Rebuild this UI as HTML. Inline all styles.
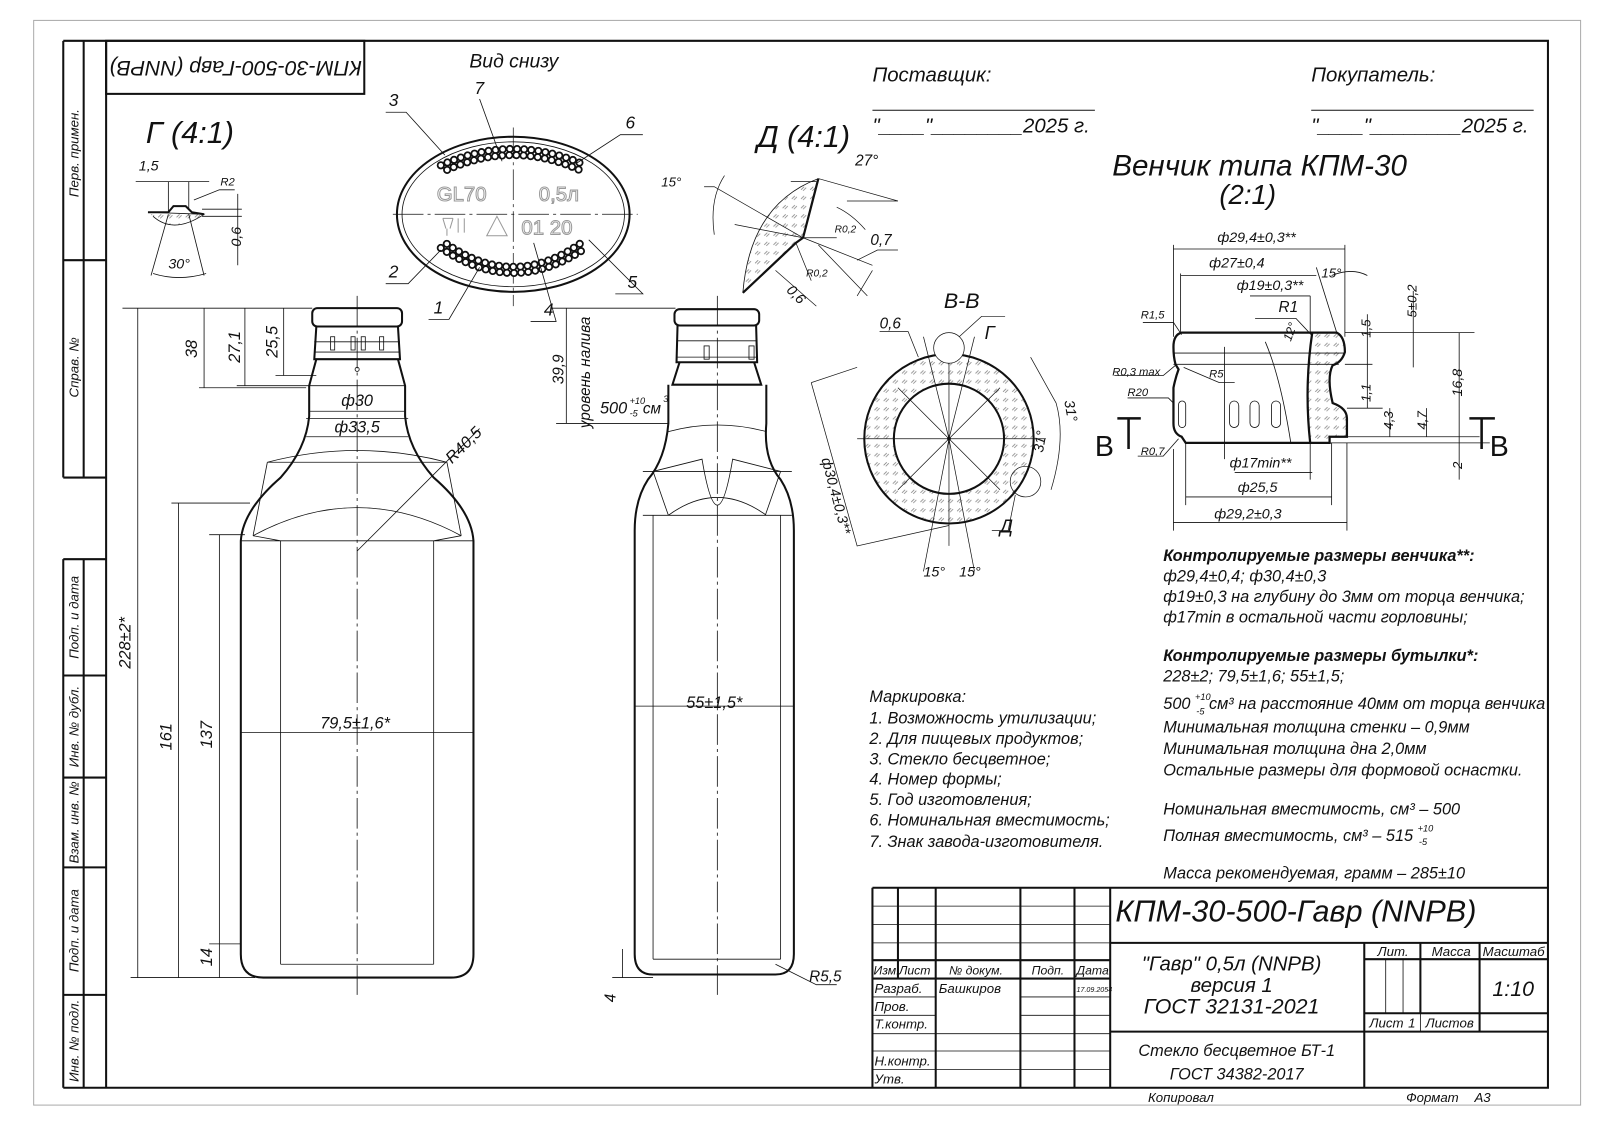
<!DOCTYPE html>
<html><head><meta charset="utf-8"><style>
html,body{margin:0;padding:0;background:#fff;}
svg{display:block;}
text{font-family:"Liberation Sans Narrow","Liberation Sans",sans-serif;font-style:italic;fill:#111;}
</style></head><body>
<svg id="s" width="1600" height="1131" viewBox="0 0 1600 1131" xmlns="http://www.w3.org/2000/svg">
<defs>
<pattern id="h" width="9" height="9" patternUnits="userSpaceOnUse">
<path d="M2 6 L5 3 M4 7 L7 4" stroke="#888" stroke-width="0.8"/>
</pattern>
</defs>
<g transform="scale(1.0204)" fill="none" stroke="#111">
<!-- frames -->
<rect x="33" y="20" width="1516" height="1063" stroke="#aaa" stroke-width="1"/>
<path d="M62 40 H1517 V1066 H62" stroke-width="2"/>
<line x1="104" y1="40" x2="104" y2="1066" stroke-width="2"/>
<path d="M62 40 V468 M82 40 V468 M62 548 V1066 M82 548 V1066" stroke-width="2"/>
<path d="M62 255 H104 M62 468 H104 M62 548 H104 M62 662 H104 M62 762 H104 M62 850 H104 M62 975 H104" stroke-width="2"/>
<rect x="104" y="40" width="253" height="52" stroke-width="2"/>
<g stroke="none" font-size="13">
<text transform="translate(77,150) rotate(-90)" text-anchor="middle">Перв. примен.</text>
<text transform="translate(77,360) rotate(-90)" text-anchor="middle">Справ. №</text>
<text transform="translate(77,605) rotate(-90)" text-anchor="middle">Подп. и дата</text>
<text transform="translate(77,712) rotate(-90)" text-anchor="middle">Инв. № дубл.</text>
<text transform="translate(77,806) rotate(-90)" text-anchor="middle">Взам. инв. №</text>
<text transform="translate(77,912) rotate(-90)" text-anchor="middle">Подп. и дата</text>
<text transform="translate(77,1020) rotate(-90)" text-anchor="middle">Инв. № подл.</text>
<text transform="translate(231,60) rotate(180)" text-anchor="middle" font-size="21">КПМ-30-500-Гавр (NNPB)</text>
<text x="460" y="66" font-size="19">Вид снизу</text>
<text x="143" y="140" font-size="30">Г (4:1)</text>
<text x="742" y="144" font-size="30">Д (4:1)</text>
<text x="855" y="80" font-size="20">Поставщик:</text>
<text x="855" y="130" font-size="20">"____"________2025 г.</text>
<text x="1285" y="80" font-size="20">Покупатель:</text>
<text x="1285" y="130" font-size="20">"____"________2025 г.</text>
<text x="1090" y="172" font-size="29">Венчик типа КПМ-30</text>
<text x="1195" y="200" font-size="27">(2:1)</text>
</g>
<path d="M855 108 H1073 M1285 108 H1503" stroke-width="1"/>

<!-- LEFT BOTTLE -->
<g stroke-width="2">
<rect x="306" y="302" width="88" height="18" rx="5"/>
<path d="M310 320 L308 352 H392 L390 320"/>
<path d="M310 352 L303 378 L303 408 Q300 440 275 468 Q238 500 236 530 V935 Q236 958 258 958 H442 Q464 958 464 935 V530 Q462 500 425 468 Q400 440 397 408 V378 L390 352"/>
</g>
<g stroke-width="0.8">
<path d="M308 335 H392 M308 345 H392 M303 378 H397 M300 410 H400"/>
<rect x="324" y="330" width="4" height="13"/><rect x="344" y="330" width="4" height="13"/><rect x="354" y="330" width="4" height="13"/><rect x="372" y="330" width="4" height="13"/>
<circle cx="350" cy="362" r="2"/>
<path d="M262 453 H438 M262 453 Q350 430 438 453 M248 525 L262 453 M452 525 L438 453 M248 525 Q350 470 452 525 M236 530 H464 M275 530 V945 M425 530 V945 M248 525 L275 530 M452 525 L425 530 M275 945 H425"/>
<path d="M350 290 V975" stroke-dasharray="30 4 3 4"/>
<path d="M120 302 H306 M128 958 H250 M168 493 H245 M205 524 H240 M195 380 H300 M232 378 H303 M270 368 H310 M205 925 H236"/>
<path d="M135 302 V958 M175 493 V958 M215 524 V958 M200 302 V380 M240 302 V378 M278 302 V368"/>
<path d="M303 403 H397 M300 428 H400 M236 718 H464 M350 540 L470 420"/>
</g>
<g stroke="none" font-size="16">
<text transform="translate(128,630) rotate(-90)" text-anchor="middle">228±2*</text>
<text transform="translate(168,722) rotate(-90)" text-anchor="middle">161</text>
<text transform="translate(208,720) rotate(-90)" text-anchor="middle">137</text>
<text transform="translate(208,938) rotate(-90)" text-anchor="middle">14</text>
<text transform="translate(193,342) rotate(-90)" text-anchor="middle">38</text>
<text transform="translate(235,340) rotate(-90)" text-anchor="middle">27,1</text>
<text transform="translate(272,335) rotate(-90)" text-anchor="middle">25,5</text>
<text x="350" y="398" text-anchor="middle">ф30</text>
<text x="350" y="424" text-anchor="middle">ф33,5</text>
<text x="348" y="714" text-anchor="middle">79,5±1,6*</text>
<text transform="translate(443,455) rotate(-45)">R40,5</text>
</g>

<!-- RIGHT BOTTLE -->
<g stroke-width="2">
<rect x="661" y="303" width="83" height="16" rx="5"/>
<path d="M664 319 L663 355 H742 L741 319"/>
<path d="M666 355 L659 377 H746 L739 355 M655 377 V415 Q652 450 635 470 Q622 490 622 520 V935 Q622 955 640 955 H760 Q778 955 778 935 V520 Q778 490 765 470 Q748 450 751 415 V377"/>
</g>
<g stroke-width="0.8">
<path d="M663 334 H742 M663 350 H742 M655 423 Q703 410 751 423 M630 462 H776 M640 462 L655 505 M765 462 L750 505"/>
<rect x="690" y="339" width="5" height="13"/><rect x="734" y="339" width="5" height="13"/>
<path d="M640 462 L688 450 Q703 540 718 450 L765 462 M655 505 Q703 470 751 505 M630 505 H776 M640 505 V940 M765 505 V940 M640 940 H765"/>
<path d="M703 290 V975" stroke-dasharray="30 4 3 4"/>
<path d="M540 302 H662 M555 302 V415 M545 415 H655 M622 692 H778 M610 930 V958 M600 958 H640 M760 945 L800 965 H820"/>
</g>
<g stroke="none" font-size="15">
<text transform="translate(552,362) rotate(-90)" text-anchor="middle">39,9</text>
<text transform="translate(578,365) rotate(-90)" text-anchor="middle">уровень налива</text>
<text x="588" y="405" font-size="16">500</text><text x="617" y="396" font-size="9">+10</text><text x="617" y="408" font-size="9">-5</text><text x="630" y="405" font-size="15">см</text><text x="650" y="394" font-size="9">3</text>
<text x="700" y="694" text-anchor="middle" font-size="16">55±1,5*</text>
<text transform="translate(603,978) rotate(-90)" text-anchor="middle">4</text>
<text x="793" y="962">R5,5</text>
</g>

<!-- OVAL -->
<ellipse cx="503" cy="210" rx="114" ry="76" stroke-width="2"/>
<ellipse cx="503" cy="210" rx="109" ry="71" stroke-width="0.8"/>
<path d="M385 210 H625 M503 125 V300" stroke-width="0.7" stroke-dasharray="30 4 3 4"/>
<g stroke-linecap="round">
<path id="b1" d="M432 162 Q503 130 574 162" stroke="#111" stroke-width="8" stroke-dasharray="0 7"/>
<path d="M432 162 Q503 130 574 162" stroke="#fff" stroke-width="4.5" stroke-dasharray="0 7"/>
<path d="M435 168 Q503 136 571 168" stroke="#111" stroke-width="8" stroke-dasharray="0 7" stroke-dashoffset="3.5"/>
<path d="M435 168 Q503 136 571 168" stroke="#fff" stroke-width="4.5" stroke-dasharray="0 7" stroke-dashoffset="3.5"/>
<path d="M432 243 Q503 292 574 243" stroke="#111" stroke-width="8" stroke-dasharray="0 7"/>
<path d="M432 243 Q503 292 574 243" stroke="#fff" stroke-width="4.5" stroke-dasharray="0 7"/>
<path d="M435 237 Q503 286 571 237" stroke="#111" stroke-width="8" stroke-dasharray="0 7" stroke-dashoffset="3.5"/>
<path d="M435 237 Q503 286 571 237" stroke="#fff" stroke-width="4.5" stroke-dasharray="0 7" stroke-dashoffset="3.5"/>
</g>
<g stroke="#999" stroke-width="1" font-size="20" font-family="Liberation Sans,sans-serif">
<text x="428" y="197" style="font-style:normal;fill:#fff">GL70</text>
<text x="528" y="197" style="font-style:normal;fill:#fff">0,5л</text>
<text x="511" y="230" style="font-style:normal;fill:#fff">01 20</text>
<path d="M487 212 L477 231 H497 Z M434 214 H444 M434 214 L437 224 M444 214 L441 224 M438 224 V231 M449 214 V228 M455 214 V228"/>
</g>
<g stroke-width="0.8">
<path d="M378 110 H398 L436 152 M470 97 L492 158 M630 132 H608 L565 160 M378 278 H400 L432 245 M420 313 H440 L470 262 M520 315 H545 L523 238 M603 288 H630 L577 235"/>
</g>
<g stroke="none" font-size="17">
<text x="381" y="104">3</text><text x="465" y="92">7</text><text x="613" y="126">6</text>
<text x="381" y="272">2</text><text x="425" y="307">1</text><text x="533" y="309">4</text><text x="615" y="282">5</text>
</g>

<!-- Г detail -->
<g stroke-width="0.8">
<path d="M145 208 L200 210 Q170 230 150 212" fill="url(#h)"/>
<path d="M145 208 L165 208 L170 202 L182 202 L188 208 L200 210" stroke-width="2"/>
<path d="M165 178 V208 M185 178 V205 M133 178 H205 M165 210 L148 270 M185 210 L200 270 M150 268 Q175 276 202 268 M190 196 L215 186 H230 M198 205 H237 M198 212 H237 M233 190 V260"/>
</g>
<g stroke="none" font-size="14"><text x="136" y="167">1,5</text><text x="216" y="182" font-size="11">R2</text><text transform="translate(236,232) rotate(-90)" text-anchor="middle">0,6</text><text x="165" y="263">30°</text></g>

<!-- Д detail -->
<path d="M802 175 Q735 200 728 287 L780 238 L787 233 Z" fill="url(#h)" stroke="none"/>
<path d="M802 175 Q735 200 728 287" stroke-width="0.8"/>
<path d="M802 175 L787 233 L780 238 L728 287" stroke-width="2.2"/>
<g stroke-width="0.7">
<path d="M690 183 H700 L787 233 L720 220 M710 172 Q695 195 700 230 M775 178 H800 M787 233 L855 260 M830 197 H880 L802 175 M802 240 L850 290 M820 203 Q835 210 848 225 M787 233 L820 233 M780 238 L795 275 M760 265 L800 300 M840 255 L860 245 H880 M840 290 L855 265"/>
</g>
<g stroke="none" font-size="13"><text x="648" y="183">15°</text><text x="838" y="162" font-size="15">27°</text><text x="818" y="228" font-size="10">R0,2</text><text x="853" y="240" font-size="15">0,7</text><text x="790" y="271" font-size="10">R0,2</text><text transform="translate(770,285) rotate(45)" font-size="14">0,6</text></g>

<!-- Section В-В -->
<g>
<circle cx="930" cy="430" r="83" fill="url(#h)" stroke-width="2"/>
<circle cx="930" cy="430" r="54" fill="#fff" stroke-width="2"/>
<g stroke-width="0.7">
<path d="M840 430 H1025 M930 330 V535 M930 430 L880 380 M930 430 L880 480 M930 430 L980 380 M930 430 L980 480 M930 430 L905 330 M930 430 L955 330 M930 430 L905 560 M930 430 L955 560"/>
<circle cx="930" cy="341" r="15" fill="#fff"/><circle cx="1005" cy="472" r="15"/>
<path d="M940 330 L962 310 H985 M995 485 L988 520 H972 M795 375 L840 360 M795 375 L840 535 L930 515 M862 325 H890 L900 350 M1010 350 L1035 395 Q1045 430 1030 480"/>
<circle cx="930" cy="430" r="1.5" fill="#111"/>
</g>
</g>
<g stroke="none"><text x="925" y="302" font-size="21">В-В</text><text x="965" y="332" font-size="18">Г</text><text x="862" y="322" font-size="15">0,6</text><text x="980" y="522" font-size="18">Д</text>
<text transform="translate(805,450) rotate(75)" font-size="14">ф30,4±0,3**</text>
<text transform="translate(1043,393) rotate(80)" font-size="14">31°</text><text transform="translate(1022,444) rotate(-80)" font-size="14">31°</text>
<text x="905" y="565" font-size="14">15°</text><text x="940" y="565" font-size="14">15°</text></g>

<!-- Венчик -->
<path d="M1286 326 H1310 Q1318 330 1318 345 Q1315 355 1306 358 Q1300 370 1306 395 Q1320 400 1320 410 V428 H1303 V434 H1284 Q1278 380 1286 326 Z" fill="url(#h)" stroke="none"/>
<g stroke-width="2.2">
<path d="M1158 326 H1310 Q1318 330 1318 345 Q1315 355 1306 358 Q1300 370 1306 395 Q1320 400 1320 410 V428 H1303 V434 H1162 L1158 428 Q1150 425 1150 415 V380 Q1152 370 1155 362 L1152 357 Q1150 350 1150 340 Q1150 328 1158 326 Z"/>
<path d="M1286 326 Q1278 380 1284 434"/>
</g>
<g stroke-width="0.8">
<rect x="1155" y="393" width="7" height="26" rx="3.5"/>
<rect x="1205" y="393" width="9" height="26" rx="4.5"/><rect x="1225" y="393" width="9" height="26" rx="4.5"/><rect x="1246" y="393" width="9" height="26" rx="4.5"/>
<path d="M1150 346 H1318 M1150 357 H1312 M1200 340 V450 M1240 335 Q1255 370 1265 434"/>
<path d="M1150 330 V240 M1318 330 V240 M1150 244 H1318 M1157 270 H1290 M1157 268 V326 M1225 290 H1284 M1284 290 V326 M1305 270 Q1325 262 1340 270 M1290 262 L1310 326"/>
<path d="M1318 326 H1445 M1318 357 H1345 M1320 400 H1355 M1303 428 H1450 M1302 434 H1460 M1340 308 V400 M1385 285 V360 M1430 326 V470 M1362 400 V428 M1398 400 V428"/>
<path d="M1210 463 H1286 M1284 434 V470 M1162 487 H1305 M1162 434 V495 M1150 512 H1320 M1150 440 V520 M1305 434 V495 M1320 434 V520"/>
<path d="M1120 316 H1150 L1158 328 M1092 368 H1140 L1152 358 M1160 360 L1195 375 H1210 M1105 390 H1145 L1150 395 M1115 447 H1140 L1155 430 M1230 312 H1270 L1285 328"/>
<path d="M1095 410 H1118 M1106 410 V440 M1440 410 H1465 M1452 410 V440" stroke-width="2.5"/>
</g>
<g stroke="none" font-size="14">
<text x="1193" y="237">ф29,4±0,3**</text><text x="1185" y="262">ф27±0,4</text><text x="1212" y="284">ф19±0,3**</text>
<text x="1295" y="272" font-size="13">15°</text><text x="1253" y="306" font-size="15">R1</text><text x="1118" y="312" font-size="11">R1,5</text>
<text x="1090" y="368" font-size="11">R0,3 max</text><text x="1185" y="370" font-size="11">R5</text><text x="1105" y="388" font-size="11">R20</text><text x="1118" y="446" font-size="11">R0,7</text>
<text x="1265" y="335" font-size="12" transform="rotate(-70 1265 335)">12°</text>
<text x="1205" y="458">ф17min**</text><text x="1213" y="482">ф25,5</text><text x="1190" y="508">ф29,2±0,3</text>
<text transform="translate(1343,322) rotate(-90)" text-anchor="middle" font-size="13">1,5</text>
<text transform="translate(1388,295) rotate(-90)" text-anchor="middle" font-size="13">5±0,2</text>
<text transform="translate(1433,375) rotate(-90)" text-anchor="middle" font-size="14">16,8</text>
<text transform="translate(1343,385) rotate(-90)" text-anchor="middle" font-size="13">1,1</text>
<text transform="translate(1365,412) rotate(-90)" text-anchor="middle" font-size="13">4,3</text>
<text transform="translate(1398,412) rotate(-90)" text-anchor="middle" font-size="13">4,7</text>
<text transform="translate(1433,456) rotate(-90)" text-anchor="middle" font-size="13">2</text>
<text x="1073" y="447" font-size="28" style="font-style:normal">В</text><text x="1460" y="447" font-size="28" style="font-style:normal">В</text>
</g>

<!-- notes -->
<g stroke="none" font-size="16">
<text x="1140" y="550" font-weight="bold">Контролируемые размеры венчика**:</text>
<text x="1140" y="570">ф29,4±0,4; ф30,4±0,3</text>
<text x="1140" y="590">ф19±0,3 на глубину до 3мм от торца венчика;</text>
<text x="1140" y="610">ф17min в остальной части горловины;</text>
<text x="1140" y="648" font-weight="bold">Контролируемые размеры бутылки*:</text>
<text x="1140" y="668">228±2; 79,5±1,6; 55±1,5;</text>
<text x="1140" y="695">500 <tspan font-size="9" dy="-9">+10</tspan><tspan font-size="9" dx="-14" dy="14">-5</tspan><tspan dy="-5"> см³ на расстояние 40мм от торца венчика</tspan></text>
<text x="1140" y="718">Минимальная толщина стенки  – 0,9мм</text>
<text x="1140" y="739">Минимальная толщина дна 2,0мм</text>
<text x="1140" y="760">Остальные размеры для формовой оснастки.</text>
<text x="1140" y="798">Номинальная вместимость, см³  – 500</text>
<text x="1140" y="824">Полная вместимость, см³  – 515 <tspan font-size="9" dy="-9">+10</tspan><tspan font-size="9" dx="-14" dy="13">-5</tspan></text>
<text x="1140" y="861">Масса рекомендуемая, грамм  – 285±10</text>
<text x="852" y="688">Маркировка:</text>
<text x="852" y="709">1. Возможность утилизации;</text>
<text x="852" y="729">2. Для пищевых продуктов;</text>
<text x="852" y="749">3. Стекло бесцветное;</text>
<text x="852" y="769">4. Номер формы;</text>
<text x="852" y="789">5. Год изготовления;</text>
<text x="852" y="809">6. Номинальная вместимость;</text>
<text x="852" y="830">7. Знак завода-изготовителя.</text>
</g>

<!-- Title block -->
<g stroke-width="2">
<path d="M855 870 H1517 M855 870 V1066 M1088 870 V1066 M880 870 V959 M917 870 V1066 M1000 870 V1066 M1053 870 V1066 M1088 924 H1517 M1337 924 V1066 M1088 1011 H1517 M1337 993 H1517 M1337 940 H1517 M1392 924 V993 M1450 924 V1011 M855 941 H1088 M855 959 H1088"/>
</g>
<g stroke-width="0.8"><path d="M855 888 H1088 M855 906 H1088 M855 924 H1088 M855 977 H917 M1000 977 H1088 M855 995 H917 M1000 995 H1088 M855 1013 H1088 M855 1030 H1088 M855 1048 H1088 M1358 940 V993 M1375 940 V993 M1392 993 V1011"/></g>
<g stroke="none" font-size="13">
<text x="1270" y="903" font-size="30" text-anchor="middle">КПМ-30-500-Гавр (NNPB)</text>
<text x="1207" y="951" font-size="20" text-anchor="middle">"Гавр" 0,5л (NNPB)</text>
<text x="1207" y="972" font-size="20" text-anchor="middle">версия 1</text>
<text x="1207" y="993" font-size="21" text-anchor="middle">ГОСТ 32131-2021</text>
<text x="1212" y="1035" font-size="16" text-anchor="middle">Стекло бесцветное БТ-1</text>
<text x="1212" y="1058" font-size="16" text-anchor="middle">ГОСТ 34382-2017</text>
<text x="1350" y="937">Лит.</text><text x="1403" y="937">Масса</text><text x="1453" y="937">Масштаб</text>
<text x="1483" y="976" font-size="21" text-anchor="middle">1:10</text>
<text x="1342" y="1007">Лист</text><text x="1380" y="1007">1</text><text x="1397" y="1007">Листов</text>
<text x="856" y="955" font-size="12">Изм.</text><text x="881" y="955" font-size="12">Лист</text><text x="930" y="955" font-size="12">№ докум.</text><text x="1011" y="955" font-size="12">Подп.</text><text x="1055" y="955" font-size="12">Дата</text>
<text x="857" y="973">Разраб.</text><text x="920" y="973">Башкиров</text><text x="1055" y="972" font-size="7">17.09.2054</text>
<text x="857" y="991">Пров.</text><text x="857" y="1008">Т.контр.</text><text x="857" y="1044">Н.контр.</text><text x="857" y="1062">Утв.</text>
<text x="1125" y="1080">Копировал</text><text x="1378" y="1080">Формат</text><text x="1445" y="1080">А3</text>
</g>
</g>
</svg>
</body></html>
